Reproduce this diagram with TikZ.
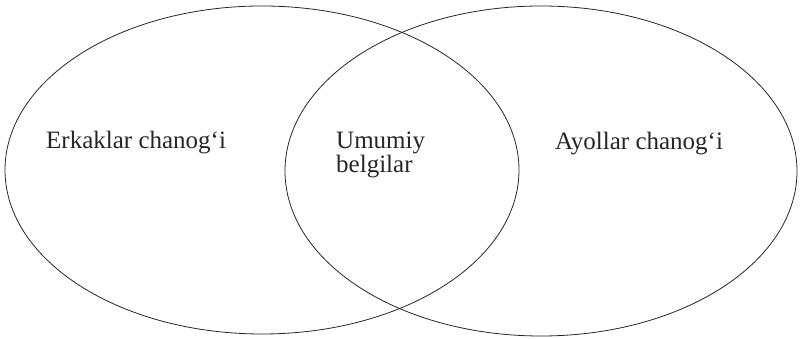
\documentclass[tikz,border=0pt]{standalone}
\usepackage{fontspec}
\setmainfont{Liberation Serif}
\begin{document}
\begin{tikzpicture}[x=1pt,y=1pt,
  setshape/.style={draw=black!85, line width=0.8pt},
  lbl/.style={font=\fontsize{25}{24}\selectfont, inner sep=0pt, anchor=base west, text=black!85}]
\useasboundingbox (0,0) rectangle (801,339);
\draw[setshape] (262,169) ellipse [x radius=257, y radius=164];
\draw[setshape] (541,168) ellipse [x radius=256, y radius=165];
\node[lbl] (men) at (46,190) {Erkaklar chanog‘i};
\node[lbl] (common1) at (336,190) {Umumiy};
\node[lbl] (common2) at (336,166) {belgilar};
\node[lbl] (women) at (555,189) {Ayollar chanog‘i};
\end{tikzpicture}
\end{document}
